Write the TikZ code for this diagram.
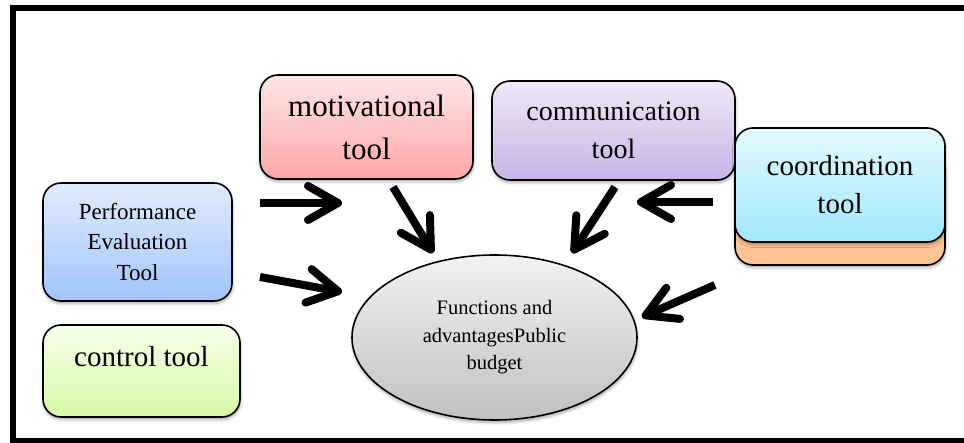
\documentclass[tikz,border=0pt]{standalone}
\usepackage{fontspec}
\setmainfont{Liberation Serif}
\usepackage{tikz}
\usetikzlibrary{arrows.meta,shapes.geometric,shadows.blur}
\definecolor{redtop}{RGB}{255,230,230}
\definecolor{redbot}{RGB}{255,166,166}
\definecolor{lilactop}{RGB}{239,231,247}
\definecolor{lilacbot}{RGB}{200,180,229}
\definecolor{cyantop}{RGB}{228,249,255}
\definecolor{cyanbot}{RGB}{160,232,252}
\definecolor{peach}{RGB}{255,196,150}
\definecolor{bluetop}{RGB}{226,236,255}
\definecolor{bluebot}{RGB}{160,196,250}
\definecolor{limetop}{RGB}{246,255,232}
\definecolor{limebot}{RGB}{214,250,166}
\definecolor{greytop}{RGB}{242,242,242}
\definecolor{greybot}{RGB}{192,192,192}
\tikzset{
  tool/.style  ={draw=black, line width=1.6pt, rounded corners=18pt, align=center,
                 inner sep=0pt,
                 blur shadow={shadow xshift=0.5pt, shadow yshift=-2.5pt,
                              shadow blur radius=3pt, shadow opacity=35}},
  goal/.style  ={draw=black, line width=1.6pt, ellipse, align=center, inner sep=0pt,
                 top color=greytop, bottom color=greybot,
                 blur shadow={shadow xshift=0.5pt, shadow yshift=-2.5pt,
                              shadow blur radius=3pt, shadow opacity=35}},
  push/.style  ={-{Straight Barb[length=30pt,width=34pt,round]}, line width=8pt},
}

\begin{document}
\begin{tikzpicture}[x=1pt,y=1pt]
\useasboundingbox (0,0) rectangle (964,442);
\clip (0,0) rectangle (964,442);
% outer frame, open on the right
\draw[line width=6pt] (980,434) -- (12.5,434) -- (12.5,1) -- (980,1);

% tool boxes
\node[tool, top color=redtop, bottom color=redbot, minimum width=213pt, minimum height=104pt,
      font=\fontsize{31}{43}\selectfont] (motiv) at (366.5,315) {motivational\\tool};
\node[tool, top color=lilactop, bottom color=lilacbot, minimum width=243pt, minimum height=99pt,
      font=\fontsize{28}{38}\selectfont] (comm) at (613.5,311.5) {communication\\tool};
\node[tool, fill=peach, minimum width=210pt, minimum height=114pt] (coordback) at (840,234) {};
\node[tool, top color=cyantop, bottom color=cyanbot, minimum width=210pt, minimum height=114pt,
      font=\fontsize{29}{38}\selectfont] (coord) at (840,257) {coordination\\tool};
\node[tool, top color=bluetop, bottom color=bluebot, minimum width=189pt, minimum height=118pt,
      font=\fontsize{23}{30.5}\selectfont] (perf) at (137.5,200) {Performance\\Evaluation\\Tool};
\node[tool, top color=limetop, bottom color=limebot, minimum width=197pt, minimum height=92pt,
      font=\fontsize{29}{36}\selectfont, text height=20pt, text depth=28pt] (ctrl) at (141.5,71) {control tool};

% public budget
\node[goal, minimum width=285pt, minimum height=165pt,
      font=\fontsize{20.5}{27.5}\selectfont] (budget) at (494.5,104.5) {Functions and\\advantagesPublic\\budget};

% arrow ends
\coordinate (a1s) at (260,239);  \coordinate (a1e) at (342,239);
\coordinate (a2s) at (393,255);  \coordinate (a2e) at (433,189);
\coordinate (a3s) at (260,165);  \coordinate (a3e) at (342,150);
\coordinate (a4s) at (615,255);  \coordinate (a4e) at (572,189);
\coordinate (a5s) at (713,240);  \coordinate (a5e) at (637,240);
\coordinate (a6s) at (715,157);  \coordinate (a6e) at (642,125);
\foreach \n in {1,...,6}{
  \draw[push] (a\n s) -- (a\n e);
}
\end{tikzpicture}
\end{document}
